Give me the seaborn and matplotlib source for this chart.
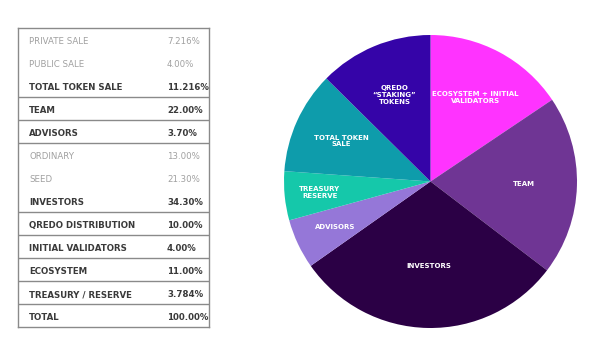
import matplotlib
matplotlib.use("Agg")
from matplotlib import pyplot as plt
import seaborn as sns
import numpy as np

# table data
row_labels = ["PRIVATE SALE", "PUBLIC SALE", "TOTAL TOKEN SALE", "TEAM", "ADVISORS",
              "ORDINARY", "SEED", "INVESTORS", "QREDO DISTRIBUTION", "INITIAL VALIDATORS",
              "ECOSYSTEM", "TREASURY / RESERVE", "TOTAL"]
row_values = ["7.216%", "4.00%", "11.216%", "22.00%", "3.70%", "13.00%", "21.30%",
              "34.30%", "10.00%", "4.00%", "11.00%", "3.784%", "100.00%"]
row_bold = [False, False, True, True, True, False, False, True, True, True, True, True, True]
# groups end after these row indices (lines drawn below them)
group_ends = [2, 3, 4, 7, 8, 9, 10, 11]

# pie data (clockwise from top)
slice_labels = ["ECOSYSTEM + INITIAL\nVALIDATORS", "TEAM", "INVESTORS", "ADVISORS",
                "TREASURY\nRESERVE", "TOTAL TOKEN\nSALE", "QREDO\n\u201cSTAKING\u201d\nTOKENS"]
slice_values = [15.6, 19.8, 29.9, 5.5, 5.4, 11.3, 12.6]
slice_colors = ["#FF33FF", "#6F3594", "#2B0045", "#9577D8", "#15C8AA", "#0E9CAB", "#3504A8"]
label_dist = [0.65, 0.64, 0.58, 0.72, 0.76, 0.67, 0.64]

sns.set_style("white")
plt.rcParams["font.family"] = ["Liberation Sans Narrow", "DejaVu Sans"]

W, H = 601, 352
fig = plt.figure(figsize=(W / 100, H / 100), dpi=100)

# ---- table ----
tx0, tx1, ty0, ty1 = 18, 209, 28.3, 327.3
tab = fig.add_axes([tx0 / W, 1 - ty1 / H, (tx1 - tx0) / W, (ty1 - ty0) / H])
n = len(row_labels)
tab.set_xlim(0, 1)
tab.set_ylim(n, 0)
tab.set_xticks([])
tab.set_yticks([])
for s in tab.spines.values():
    s.set_color("#8a8a8a")
    s.set_linewidth(1.0)
for i, (lab, val, b) in enumerate(zip(row_labels, row_values, row_bold)):
    c = "#3a3a3a" if b else "#a0a0a0"
    w = "bold" if b else "normal"
    tab.text(0.058, i + 0.58, lab, color=c, fontweight=w, fontsize=6.2, va="center", ha="left")
    tab.text(0.78, i + 0.58, val, color=c, fontweight=w, fontsize=6.2, va="center", ha="left")
for g in group_ends:
    tab.axhline(g + 1, color="#8a8a8a", lw=1.0)

# ---- pie ----
cx, cy, r = 430.5, 181.5, 146.5
ax = fig.add_axes([(cx - r) / W, 1 - (cy + r) / H, 2 * r / W, 2 * r / H])
wedges, _ = ax.pie(slice_values, colors=slice_colors, startangle=90, counterclock=False,
                   radius=1, wedgeprops=dict(linewidth=0))
ax.set_xlim(-1, 1)
ax.set_ylim(-1, 1)
ax.set_aspect("equal")
ax.axis("off")
for wdg, lab, d in zip(wedges, slice_labels, label_dist):
    ang = np.deg2rad((wdg.theta1 + wdg.theta2) / 2)
    ax.text(d * np.cos(ang), d * np.sin(ang), lab, color="white", fontsize=5,
            fontweight="bold", ha="center", va="center", linespacing=1.15)

fig.savefig("out.png", dpi=100)
